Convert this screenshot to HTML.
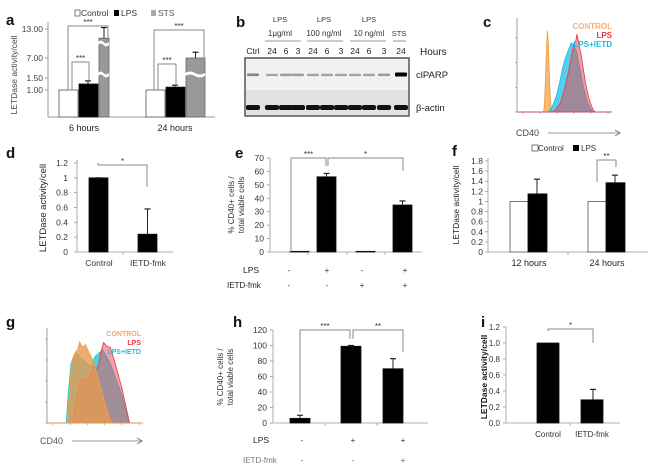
<!DOCTYPE html>
<html><head><meta charset="utf-8"><style>
body{margin:0;background:#fff;}
svg{display:block;font-family:"Liberation Sans",sans-serif;}
</style></head><body>
<svg id="fig" width="650" height="470" viewBox="0 0 650 470" xmlns="http://www.w3.org/2000/svg">
<g id="L"></g>
</svg>
<script>
// ---------- DATA ----------
const aGroups=["6 hours","24 hours"];
const aControl=[1.0,1.0];
const aLPS=[1.25,1.12];
const aLPSErr=[1.38,1.2];
const aSTS=[11.1,7.0];
const aSTSErr=[13.3,8.2];
const aTicks=["13.00","7.00","1.50","1.00"];
const aTickVals=[13,7,1.5,1];

const bLanes=["Ctrl","24","6","3","24","6","3","24","6","3","24"];
const bPARP=[0.35,0.2,0.25,0.25,0.2,0.2,0.2,0.2,0.2,0.25,1.0];

const dCats=["Control","IETD-fmk"];
const dVals=[1.0,0.24];
const dErr=[1.0,0.58];
const dTicks=[0,0.2,0.4,0.6,0.8,1,1.2];

const eVals=[0.5,56,0.5,35];
const eErr=[0.5,58.5,0.5,38];
const eLPS=["-","+","-","+"];
const eIETD=["-","-","+","+"];
const eTicks=[0,10,20,30,40,50,60,70];

const fGroups=["12 hours","24 hours"];
const fControl=[1.0,1.0];
const fLPS=[1.15,1.37];
const fLPSErr=[1.44,1.52];
const fTicks=[0,0.2,0.4,0.6,0.8,1,1.2,1.4,1.6,1.8];

const hVals=[6,99,70];
const hErr=[10,100,83];
const hLPS=["-","+","+"];
const hIETD=["-","-","+"];
const hTicks=[0,20,40,60,80,100,120];

const iCats=["Control","IETD-fmk"];
const iVals=[1.0,0.29];
const iErr=[1.0,0.42];
const iTicks=["0.0","0.2","0.4","0.6","0.8","1.0","1.2"];

// histogram panel c (x 0-100 position along axis, counts)
const cCtrlX=[0,28,29,30,31,32,33,34,35,36,37,100];
const cCtrlY=[0,0,20,70,130,165,140,80,30,8,0,0];
const cLpsX=[0,38,42,46,50,54,57,60,62,63,65,68,72,76,80,82,100];
const cLpsY=[0,0,8,20,45,80,110,140,145,158,140,110,60,25,5,0,0];
const cIetdX=[0,33,37,41,45,48,51,54,57,60,63,66,70,74,78,80,100];
const cIetdY=[0,0,10,30,60,90,110,125,140,135,120,90,50,20,5,0,0];
// histogram panel g
const gCtrlX=[0,21,23,26,29,32,34,37,40,44,48,52,56,60,64,67,100];
const gCtrlY=[0,0,40,90,100,105,116,108,112,100,90,70,50,30,12,0,0];
const gLpsX=[0,26,29,33,37,41,45,49,53,56,59,62,66,70,74,78,82,86,100];
const gLpsY=[0,0,20,55,62,60,70,80,78,100,115,110,108,90,70,50,25,0,0];
const gIetdX=[0,20,22,25,28,31,34,38,42,46,50,54,58,62,66,70,74,78,82,85,100];
const gIetdY=[0,0,40,85,95,100,95,90,85,80,95,100,105,95,85,70,55,40,20,0,0];

// ---------- HELPERS ----------
const NS="http://www.w3.org/2000/svg";
const root=document.getElementById('L');
function el(tag,attrs,parent,txt){const e=document.createElementNS(NS,tag);for(const k in attrs)e.setAttribute(k,attrs[k]);if(txt!==undefined)e.textContent=txt;(parent||root).appendChild(e);return e;}
function line(x1,y1,x2,y2,c,w,p){return el('line',{x1,y1,x2,y2,stroke:c||'#888',"stroke-width":w||1},p);}
function txt(x,y,s,size,opts,p){opts=opts||{};return el('text',Object.assign({x,y,"font-size":size,fill:opts.fill||'#333',"text-anchor":opts.anchor||'start',"font-weight":opts.weight||'normal'},opts.transform?{transform:opts.transform}:{}),p,s);}
function letter(x,y,s){const t=txt(x,y,s,15,{weight:'bold',fill:'#111'});

}
function group(name){const g=el('g',{});


return g;}
function bar(p,name,x,w,y0,y1,fill,stroke){const r=el('rect',{x,y:Math.min(y0,y1),width:w,height:Math.abs(y1-y0),fill,stroke:stroke||'#111',"stroke-width":0.8},p);

return r;}
function err(p,cx,yTop,yErr){line(cx,yTop,cx,yErr,'#222',1,p);line(cx-3,yErr,cx+3,yErr,'#222',1.2,p);}
function bracket(p,x1,x2,y,d1,d2,lab){el('polyline',{points:`${x1},${y+d1} ${x1},${y} ${x2},${y} ${x2},${y+d2}`,fill:'none',stroke:'#888',"stroke-width":1},p);txt((x1+x2)/2,y-1,lab,8,{anchor:'middle',fill:'#333'},p);}
function lin(v0,v1,p0,p1){return v=>p0+(v-v0)/(v1-v0)*(p1-p0);}

// ---------- PANEL A ----------
(function(){
 const p=group('panel-a-bar-chart');letter(6,25,'a');
 const bv=[0,1,1.5,7,13], by=[117,90,78,58,29];
 const Y=v=>{for(let i=0;i<bv.length-1;i++){if(v<=bv[i+1])return by[i]+(v-bv[i])/(bv[i+1]-bv[i])*(by[i+1]-by[i]);}return by[4]-(v-13)/6*29;};
 line(48,22,48,117,'#999',1,p);line(48,117,215,117,'#999',1,p);
 aTickVals.forEach((v,i)=>{const y=Y(v);line(45,y,48,y,'#999',1,p);txt(43,y+3,aTicks[i],8.5,{anchor:'end',fill:'#444'},p);});
 txt(17,75,'LETDase activity/cell',8.5,{anchor:'middle',fill:'#444',transform:'rotate(-90 17 75)'},p);
 const gx=[59,146], gw=[[19,19,10],[19,19,19]];
 aGroups.forEach((g,i)=>{
  const x0=gx[i];
  bar(p,'bar-control-'+i,x0,gw[i][0],117,Y(aControl[i]),'#fff','#555');
  bar(p,'bar-lps-'+i,x0+20,gw[i][1],117,Y(aLPS[i]),'#000');
  err(p,x0+29,Y(aLPS[i]),Y(aLPSErr[i]));
  const sx=x0+40, sw=gw[i][2];
  bar(p,'bar-sts-'+i,sx,sw,117,Y(aSTS[i]),'#999','#666');
  err(p,sx+sw/2,Y(aSTS[i]),Y(aSTSErr[i]));
  [42,73].forEach(wy=>{if(wy>Y(aSTS[i]))el('path',{d:`M${sx-1},${wy} q${sw/4+0.5},-3 ${sw/2+0.5},0 t${sw/2+0.5},0 v3 q-${sw/4+0.5},3 -${sw/2+0.5},0 t-${sw/2+0.5},0z`,fill:'#fff'},p);});
  txt(x0+(i?29:25),131,g,9,{anchor:'middle',fill:'#222'},p);
 });
 bracket(p,68,108,26,64,12,'***');bracket(p,72,89,62,28,18,'***');
 bracket(p,154,204,30,60,28,'***');bracket(p,158,176,64,26,22,'***');
 el('rect',{x:75,y:10,width:5,height:6,fill:'#fff',stroke:'#444',"stroke-width":0.7},p);txt(81,16,'Control',8.5,{},p);
 el('rect',{x:114,y:10,width:5,height:6,fill:'#000'},p);txt(121,16,'LPS',8.5,{},p);
 el('rect',{x:151,y:10,width:5,height:6,fill:'#aaa'},p);txt(158,16,'STS',8.5,{fill:'#555'},p);
})();

// ---------- PANEL B ----------
(function(){
 const p=group('panel-b-western-blot');letter(236,27,'b');
 const lx=[253,272,286,298,313,327,341,355,369,384,401];
 bLanes.forEach((l,i)=>{txt(lx[i],54,l,8.5,{anchor:'middle',fill:'#222'},p);});
 [[280,'1µg/ml'],[324,'100 ng/ml'],[369,'10 ng/ml']].forEach(([x,s])=>{txt(x,22,'LPS',7.5,{anchor:'middle'},p);txt(x,36,s,8,{anchor:'middle'},p);});
 txt(399,36,'STS',7.5,{anchor:'middle'},p);
 [[265,301],[307,343],[350,386],[393,406]].forEach(([a,b])=>line(a,41,b,41,'#777',0.8,p));
 txt(420,55,'Hours',10,{fill:'#222'},p);
 el('rect',{x:245,y:58,width:164,height:58,fill:'#f1f1f1',stroke:'#555',"stroke-width":1.5},p);
 el('rect',{x:246,y:90,width:162,height:25,fill:'#e2e2e2'},p);
 bPARP.forEach((v,i)=>{const e=el('rect',{x:lx[i]-6,y:74-v*1.5,width:12,height:2+v*2,rx:1,fill:'#000',opacity:0.15+0.85*v},p);
 
 
 const a=el('rect',{x:lx[i]-7,y:105,width:14,height:5,rx:2,fill:'#111'},p);
 
 });
 txt(416,78,'clPARP',9.5,{fill:'#222'},p);txt(416,111,'β-actin',9.5,{fill:'#222'},p);
})();

// ---------- HISTOGRAM HELPER ----------
function hist(p,xs,ys,X,Y,fill,stroke,op,name){
 let d='M'+X(xs[0])+','+Y(0);xs.forEach((x,i)=>{d+=' L'+X(x)+','+Y(ys[i]);});d+=' L'+X(xs[xs.length-1])+','+Y(0)+'Z';
 const e=el('path',{d,fill,"fill-opacity":op,stroke,"stroke-width":0.8},p);
 
 }
function histAxes(p,x0,x1,y0,y1,ticks,Y){line(x0,y1,x0,y0,'#888',0.8,p);line(x0,y0,x1,y0,'#888',0.8,p);
 ticks.forEach(t=>{line(x0-2,Y(t),x0,Y(t),'#888',0.6,p);});
 for(let k=0;k<6;k++){const x=x0+6+k*(x1-x0-10)/5;line(x,y0,x,y0+2,'#888',0.6,p);}
}

// ---------- PANEL C ----------
(function(){
 const p=group('panel-c-flow-histogram');letter(483,27,'c');
 const X=lin(0,100,517,612),Y=lin(0,150,112,38);
 histAxes(p,517,612,112,18,[0,50,100,150],Y);
 hist(p,cCtrlX,cCtrlY,X,Y,'#f6a04a','#f39a3c',0.75,'hist-control');
 hist(p,cIetdX,cIetdY,X,Y,'#29c3e8','#1fb8e0',0.8,'hist-lps-ietd');
 hist(p,cLpsX,cLpsY,X,Y,'#e0505a','#ee3344',0.55,'hist-lps');
 txt(612,29,'CONTROL',8,{anchor:'end',fill:'#f6b07a',weight:'bold'},p);
 txt(612,38,'LPS',8,{anchor:'end',fill:'#ee3344',weight:'bold'},p);
 txt(612,47,'LPS+IETD',8,{anchor:'end',fill:'#1fb8e0',weight:'bold'},p);
 txt(516,136,'CD40',9,{fill:'#444'},p);line(548,133,620,133,'#777',0.8,p);el('path',{d:'M615,130 L620,133 L615,136',fill:'none',stroke:'#777'},p);
})();

// ---------- PANEL D ----------
(function(){
 const p=group('panel-d-bar-chart');letter(6,158,'d');
 const Y=lin(0,1.2,252,163);
 line(77,160,77,252,'#999',0.8,p);line(77,252,173,252,'#999',0.8,p);
 dTicks.forEach(t=>{line(74,Y(t),77,Y(t),'#999',0.8,p);txt(68,Y(t)+3,String(t),8.5,{anchor:'end',fill:'#333'},p);});
 txt(46,208,'LETDase  activity/cell',9.5,{anchor:'middle',fill:'#222',transform:'rotate(-90 46 208)'},p);
 const bx=[89,138];
 dCats.forEach((c,i)=>{bar(p,'bar-'+c.toLowerCase(),bx[i],19,252,Y(dVals[i]),'#000');err(p,bx[i]+9.5,Y(dVals[i]),Y(dErr[i]));txt(bx[i]+10,266,c,8.5,{anchor:'middle',fill:'#333'},p);});
 line(123,252,123,255,'#999',0.8,p);
 bracket(p,98,147,165,-2,22,'*');
})();

// ---------- PANEL E ----------
(function(){
 const p=group('panel-e-bar-chart');letter(235,158,'e');
 const Y=lin(0,70,252,158);
 line(270,158,270,252,'#999',0.8,p);line(270,252,422,252,'#999',0.8,p);
 eTicks.forEach(t=>{line(267,Y(t),270,Y(t),'#999',0.8,p);txt(264,Y(t)+3,String(t),8.5,{anchor:'end',fill:'#333'},p);});
 txt(234,205,'% CD40+ cells /',8,{anchor:'middle',fill:'#333',transform:'rotate(-90 234 205)'},p);
 txt(244,205,'total viable cells',8,{anchor:'middle',fill:'#333',transform:'rotate(-90 244 205)'},p);
 const bx=[290,317,356,393];
 eVals.forEach((v,i)=>{bar(p,'bar-e-'+i,bx[i],19,252,Y(v),'#000');if(i%2)err(p,bx[i]+9.5,Y(v),Y(eErr[i]));});
 const lx=[289,327,362,405];
 eLPS.forEach((s,i)=>txt(lx[i],273,s,8,{anchor:'middle',fill:'#333'},p));
 eIETD.forEach((s,i)=>txt(lx[i],288,s,8,{anchor:'middle',fill:'#333'},p));
 [308,347,385].forEach(x=>line(x,252,x,255,'#999',0.8,p));
 txt(243,273,'LPS',8.5,{fill:'#222'},p);txt(227,288,'IETD-fmk',8,{fill:'#222'},p);
 bracket(p,291,326,158,94,8,'***');bracket(p,328,403,158,8,13,'*');
})();

// ---------- PANEL F ----------
(function(){
 const p=group('panel-f-bar-chart');letter(452,156,'f');
 const Y=lin(0,1.8,252,161);
 line(488,158,488,252,'#999',0.8,p);line(488,252,648,252,'#999',0.8,p);
 fTicks.forEach(t=>{line(485,Y(t),488,Y(t),'#999',0.8,p);txt(483,Y(t)+3,String(t),8.5,{anchor:'end',fill:'#333'},p);});
 txt(459,205,'LETDase activity/cell',8.5,{anchor:'middle',fill:'#222',transform:'rotate(-90 459 205)'},p);
 const gx=[510,588];
 fGroups.forEach((g,i)=>{bar(p,'bar-f-control-'+i,gx[i],18,252,Y(fControl[i]),'#fff','#555');bar(p,'bar-f-lps-'+i,gx[i]+18,19,252,Y(fLPS[i]),'#000');
  err(p,gx[i]+27,Y(fLPS[i]),Y(fLPSErr[i]));txt(gx[i]+19,266,g,9,{anchor:'middle',fill:'#222'},p);});
 line(568,252,568,255,'#999',0.8,p);
 bracket(p,597,616,160,22,7,'**');
 el('rect',{x:532,y:145,width:6,height:6,fill:'#fff',stroke:'#444',"stroke-width":0.7},p);txt(538,151,'Control',8,{},p);
 el('rect',{x:573,y:145,width:6,height:6,fill:'#000'},p);txt(581,151,'LPS',8,{},p);
})();

// ---------- PANEL G ----------
(function(){
 const p=group('panel-g-flow-histogram');letter(6,327,'g');
 const X=lin(0,100,47,143),Y=lin(0,120,423,339);
 histAxes(p,47,143,423,328,[0,30,60,90,120],Y);
 hist(p,gIetdX,gIetdY,X,Y,'#2ccbd8','#19c5d6',0.85,'hist-lps-ietd');
 hist(p,gLpsX,gLpsY,X,Y,'#e85560','#ee3344',0.55,'hist-lps');
 hist(p,gCtrlX,gCtrlY,X,Y,'#e69a4e','#f0a050',0.8,'hist-control');
 txt(141,336,'CONTROL',7,{anchor:'end',fill:'#f0a870',weight:'bold'},p);
 txt(141,345,'LPS',7,{anchor:'end',fill:'#ee3344',weight:'bold'},p);
 txt(141,354,'LPS+IETD',7,{anchor:'end',fill:'#19c5d6',weight:'bold'},p);
 txt(40,444,'CD40',9,{fill:'#555'},p);line(72,441,142,441,'#777',0.8,p);el('path',{d:'M137,438 L142,441 L137,444',fill:'none',stroke:'#777'},p);
})();

// ---------- PANEL H ----------
(function(){
 const p=group('panel-h-bar-chart');letter(233,327,'h');
 const Y=lin(0,120,423,330);
 line(273,330,273,423,'#999',0.8,p);line(273,423,428,423,'#999',0.8,p);
 hTicks.forEach(t=>{line(270,Y(t),273,Y(t),'#999',0.8,p);txt(267,Y(t)+3,String(t),8.5,{anchor:'end',fill:'#333'},p);});
 txt(223,377,'% CD40+ cells /',8,{anchor:'middle',fill:'#333',transform:'rotate(-90 223 377)'},p);
 txt(233,377,'total viable cells',8,{anchor:'middle',fill:'#333',transform:'rotate(-90 233 377)'},p);
 const bx=[290,341,383];
 hVals.forEach((v,i)=>{bar(p,'bar-h-'+i,bx[i],20,423,Y(v),'#000');err(p,bx[i]+10,Y(v),Y(hErr[i]));});
 const lx=[302,353,403];
 hLPS.forEach((s,i)=>txt(lx[i],443,s,8,{anchor:'middle',fill:'#333'},p));
 hIETD.forEach((s,i)=>txt(lx[i],463,s,8,{anchor:'middle',fill:'#666'},p));
 [325,377].forEach(x=>line(x,423,x,426,'#999',0.8,p));
 txt(253,443,'LPS',8.5,{fill:'#222'},p);txt(243,463,'IETD-fmk',8,{fill:'#777'},p);
 bracket(p,300,350,330,82,9,'***');bracket(p,353,403,330,9,22,'**');
})();

// ---------- PANEL I ----------
(function(){
 const p=group('panel-i-bar-chart');letter(481,327,'i');
 const Y=lin(0,1.2,423,327);
 line(506,327,506,423,'#999',0.8,p);line(506,423,620,423,'#999',0.8,p);
 iTicks.forEach(t=>{const v=parseFloat(t);line(503,Y(v),506,Y(v),'#999',0.8,p);txt(500,Y(v)+3,t,8,{anchor:'end',fill:'#333'},p);});
 txt(487,377,'LETDase activity/cell',8.5,{anchor:'middle',fill:'#111',weight:'bold',transform:'rotate(-90 487 377)'},p);
 const bx=[537,581];
 iCats.forEach((c,i)=>{bar(p,'bar-i-'+c.toLowerCase(),bx[i],22,423,Y(iVals[i]),'#000');if(i)err(p,bx[i]+12,Y(iVals[i]),Y(iErr[i]));txt(bx[i]+11,437,c,8,{anchor:'middle',fill:'#333'},p);});
 line(570,423,570,426,'#999',0.8,p);
 bracket(p,548,593,329,2,14,'*');
})();
</script>
</body></html>
